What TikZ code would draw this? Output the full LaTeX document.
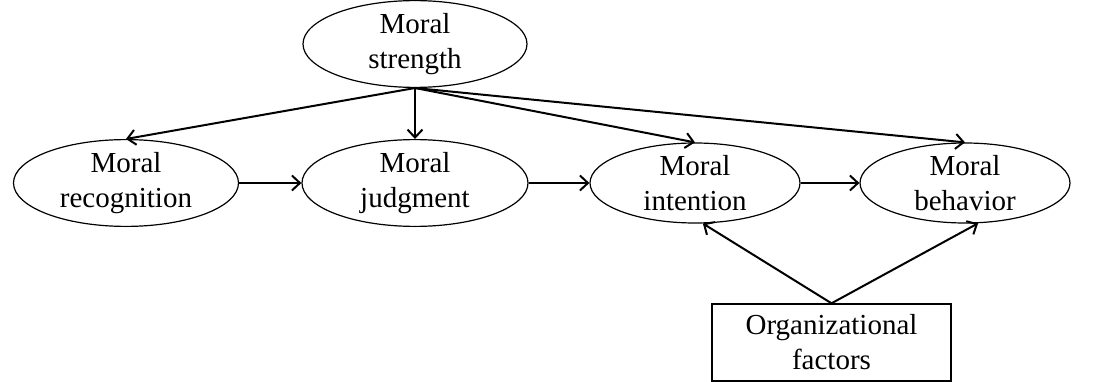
\documentclass[tikz,border=0pt]{standalone}
\usepackage{fontspec}
\setmainfont{Liberation Serif}
\usetikzlibrary{shapes.geometric,arrows.meta}

\begin{document}
\begin{tikzpicture}[x=1pt,y=-1pt,
        stage/.style={draw, ellipse, line width=1.2, inner sep=0pt, minimum height=80pt, align=center, font=\fontsize{29}{35}\selectfont},
        factorbox/.style={draw, rectangle, line width=1.4, inner sep=0pt, align=center, font=\fontsize{29}{35}\selectfont},
        link/.style={-{Straight Barb[length=8pt,width=15pt]}, line width=2}]
        \useasboundingbox (0,0) rectangle (1102,382);

        \node[stage, minimum width=224pt] (strength) at (415,44) {Moral\\strength};
        \node[stage, minimum width=225pt] (recognition) at (126,183) {Moral\\recognition};
        \node[stage, minimum width=226pt] (judgment) at (415,183) {Moral\\judgment};
        \node[stage, minimum width=210pt] (intention) at (695,183) {Moral\\intention};
        \node[stage, minimum width=210pt] (behavior) at (965,183) {Moral\\behavior};
        \node[factorbox, minimum width=239pt, minimum height=77pt] (org) at (831.5,342.5) {Organizational\\factors};

        \draw[link] (strength.south) -- (recognition.north);
        \draw[link] (strength.south) -- (judgment.north);
        \draw[link] (strength.south) -- (intention.north);
        \draw[link] (strength.south) -- (behavior.north);

        \draw[link] (recognition) -- (judgment);
        \draw[link] (judgment) -- (intention);
        \draw[link] (intention) -- (behavior);

        \draw[link] (org.north) -- (intention.-79);
        \draw[link] (org.north) -- (behavior.-72);
\end{tikzpicture}
\end{document}
